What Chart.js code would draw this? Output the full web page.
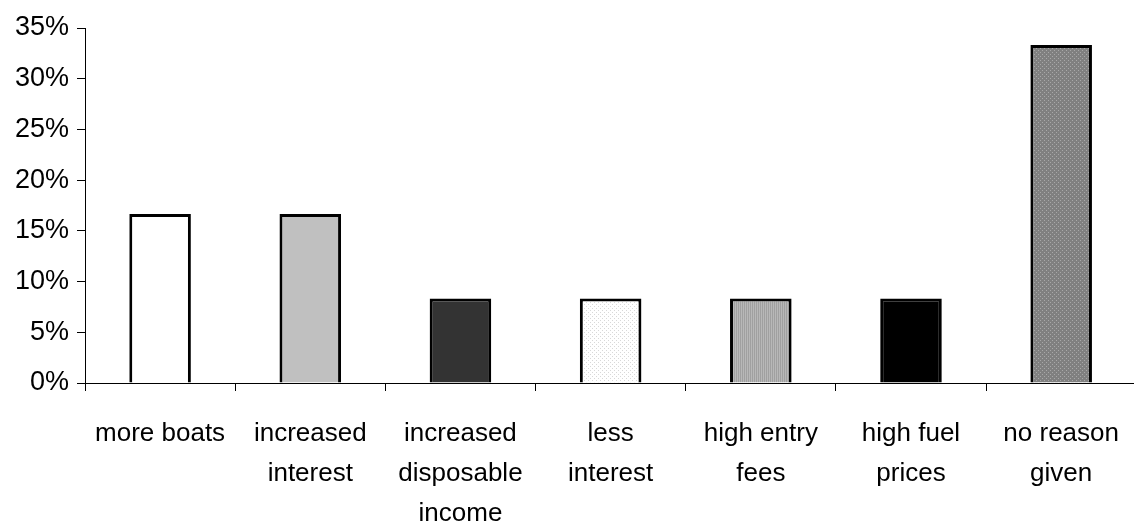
<!DOCTYPE html>
<html>
<head>
<meta charset="utf-8">
<script src="https://cdn.jsdelivr.net/npm/chart.js@4"></script>
<style>
  html, body { margin: 0; padding: 0; background: #fff; overflow: hidden; }
  #wrap { width: 1134px; height: 525px; overflow: hidden; }
</style>
</head>
<body>
<div id="wrap"><canvas id="chart" width="1142" height="525"></canvas></div>
<script>
// data
const categories = [
    'more boats',
    ['increased', 'interest'],
    ['increased', 'disposable', 'income'],
    ['less', 'interest'],
    ['high entry', 'fees'],
    ['high fuel', 'prices'],
    ['no reason', 'given']
];
const shares = [16.67, 16.67, 8.33, 8.33, 8.33, 8.33, 33.33];
const yTicks = [0, 5, 10, 15, 20, 25, 30, 35];

// small pattern helper for the dotted / striped fills
function makePattern(bg, fg, kind) {
    const c = document.createElement('canvas');
    c.width = 4; c.height = 4;
    const p = c.getContext('2d');
    p.fillStyle = bg;
    p.fillRect(0, 0, 4, 4);
    p.fillStyle = fg;
    if (kind === 'dots') {
        p.fillRect(0, 0, 1, 1);
        p.fillRect(2, 2, 1, 1);
    } else if (kind === 'vstripe') {
        p.fillRect(0, 0, 1, 4);
        p.fillRect(2, 0, 1, 4);
    }
    return c.getContext('2d').createPattern(c, 'repeat');
}

const ctx = document.getElementById('chart').getContext('2d');
const fills = [
    '#ffffff',
    '#c0c0c0',
    '#333333',
    makePattern('#ffffff', '#d8d8d8', 'dots'),
    makePattern('#b8b8b8', '#a0a0a0', 'vstripe'),
    '#000000',
    makePattern('#808080', '#a8a8a8', 'dots')
];

const family = '"Liberation Sans", Arial, sans-serif';

const chart = new Chart(ctx, {
    type: 'bar',
    data: {
        labels: categories,
        datasets: [{
            data: shares,
            backgroundColor: fills,
            borderColor: '#000',
            borderWidth: 3,
            barPercentage: 0.41,
            categoryPercentage: 1.0
        }]
    },
    options: {
        responsive: false,
        animation: false,
        layout: { padding: { top: 28, right: 0, left: 0, bottom: 0 } },
        plugins: { legend: { display: false }, tooltip: { enabled: false } },
        scales: {
            x: {
                offset: true,
                grid: { offset: true, drawOnChartArea: false, color: '#000', tickLength: 8 },
                border: { color: '#000', width: 1 },
                ticks: { color: '#000', font: { family: family, size: 26, lineHeight: '40px' }, maxRotation: 0, autoSkip: false, padding: 23 },
                afterFit: s => { s.height = 142; }
            },
            y: {
                min: 0,
                max: 35,
                afterBuildTicks: s => { s.ticks = yTicks.map(v => ({ value: v })); },
                grid: { drawOnChartArea: false, color: '#000', tickLength: 8 },
                border: { color: '#000', width: 1 },
                ticks: { color: '#000', font: { family: family, size: 27 }, padding: 8, callback: v => v + '%' },
                afterFit: s => { s.width = 85; }
            }
        }
    }
});
</script>
</body>
</html>
